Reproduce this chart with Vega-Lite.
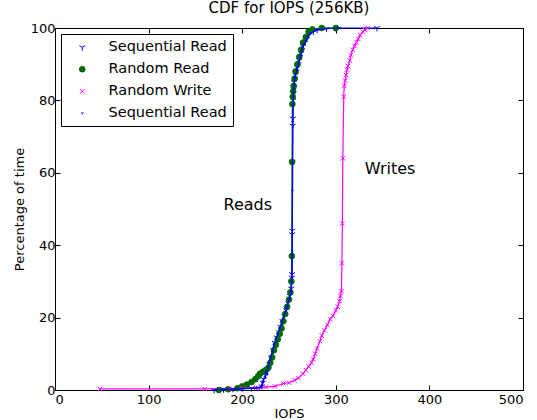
{
  "$schema": "https://vega.github.io/schema/vega-lite/v6.json",
  "width": 468,
  "height": 362,
  "autosize": "none",
  "padding": {"left": 55, "top": 28, "right": 14, "bottom": 30},
  "config": {
    "font": "DejaVu Sans",
    "view": {"stroke": "black", "strokeWidth": 1},
    "axis": {"grid": false, "domain": false, "tickColor": "black", "tickSize": -5, "labelColor": "black", "titleColor": "black", "labelFontSize": 13, "titleFontSize": 13, "titleFontWeight": "normal", "labelFont": "DejaVu Sans", "titleFont": "DejaVu Sans"},
    "legend": {"orient": "top-left", "offset": 6, "labelFontSize": 14.5, "labelFont": "DejaVu Sans", "labelColor": "black", "strokeColor": "black", "fillColor": "white", "padding": 6, "rowPadding": 7, "symbolSize": 64, "symbolStrokeWidth": 1, "symbolOffset": 8, "labelOffset": 19, "cornerRadius": 0}
  },
  "title": {"text": "CDF for IOPS (256KB)", "fontSize": 15, "fontWeight": "normal", "font": "DejaVu Sans", "offset": 6, "color": "black"},
  "datasets": {
    "cdf": [
      {"series": "Sequential Read", "iops": 170, "pct": 0},
      {"series": "Sequential Read", "iops": 180, "pct": 0.2},
      {"series": "Sequential Read", "iops": 190, "pct": 0.3},
      {"series": "Sequential Read", "iops": 200, "pct": 0.4},
      {"series": "Sequential Read", "iops": 210, "pct": 0.5},
      {"series": "Sequential Read", "iops": 218, "pct": 0.6},
      {"series": "Sequential Read", "iops": 221, "pct": 1},
      {"series": "Sequential Read", "iops": 222, "pct": 2},
      {"series": "Sequential Read", "iops": 223, "pct": 3},
      {"series": "Sequential Read", "iops": 225, "pct": 4},
      {"series": "Sequential Read", "iops": 227, "pct": 5},
      {"series": "Sequential Read", "iops": 229, "pct": 7},
      {"series": "Sequential Read", "iops": 231, "pct": 9},
      {"series": "Sequential Read", "iops": 233, "pct": 11},
      {"series": "Sequential Read", "iops": 235, "pct": 13},
      {"series": "Sequential Read", "iops": 237, "pct": 14.5},
      {"series": "Sequential Read", "iops": 239, "pct": 16},
      {"series": "Sequential Read", "iops": 241, "pct": 17.5},
      {"series": "Sequential Read", "iops": 243, "pct": 19},
      {"series": "Sequential Read", "iops": 245, "pct": 20.5},
      {"series": "Sequential Read", "iops": 247, "pct": 22},
      {"series": "Sequential Read", "iops": 249, "pct": 24},
      {"series": "Sequential Read", "iops": 251, "pct": 26},
      {"series": "Sequential Read", "iops": 252.5, "pct": 28},
      {"series": "Sequential Read", "iops": 253, "pct": 31},
      {"series": "Sequential Read", "iops": 253.3, "pct": 32},
      {"series": "Sequential Read", "iops": 253.5, "pct": 43},
      {"series": "Sequential Read", "iops": 253.6, "pct": 44},
      {"series": "Sequential Read", "iops": 253.8, "pct": 63},
      {"series": "Sequential Read", "iops": 254, "pct": 73},
      {"series": "Sequential Read", "iops": 254.2, "pct": 75},
      {"series": "Sequential Read", "iops": 254.5, "pct": 80},
      {"series": "Sequential Read", "iops": 255, "pct": 83},
      {"series": "Sequential Read", "iops": 255.5, "pct": 85},
      {"series": "Sequential Read", "iops": 256, "pct": 86},
      {"series": "Sequential Read", "iops": 257, "pct": 87},
      {"series": "Sequential Read", "iops": 258, "pct": 88},
      {"series": "Sequential Read", "iops": 259, "pct": 89},
      {"series": "Sequential Read", "iops": 260, "pct": 90},
      {"series": "Sequential Read", "iops": 261, "pct": 91},
      {"series": "Sequential Read", "iops": 262, "pct": 92},
      {"series": "Sequential Read", "iops": 263, "pct": 93},
      {"series": "Sequential Read", "iops": 264, "pct": 94},
      {"series": "Sequential Read", "iops": 265, "pct": 95},
      {"series": "Sequential Read", "iops": 267, "pct": 96},
      {"series": "Sequential Read", "iops": 269, "pct": 97},
      {"series": "Sequential Read", "iops": 271, "pct": 98},
      {"series": "Sequential Read", "iops": 276, "pct": 99},
      {"series": "Sequential Read", "iops": 280, "pct": 99.5},
      {"series": "Sequential Read", "iops": 290, "pct": 99.8},
      {"series": "Sequential Read", "iops": 300, "pct": 100},
      {"series": "Sequential Read", "iops": 344, "pct": 100},

      {"series": "Random Read", "iops": 175, "pct": 0},
      {"series": "Random Read", "iops": 185, "pct": 0.2},
      {"series": "Random Read", "iops": 195, "pct": 0.5},
      {"series": "Random Read", "iops": 200, "pct": 1},
      {"series": "Random Read", "iops": 205, "pct": 1.5},
      {"series": "Random Read", "iops": 210, "pct": 2.2},
      {"series": "Random Read", "iops": 214, "pct": 3},
      {"series": "Random Read", "iops": 217, "pct": 3.8},
      {"series": "Random Read", "iops": 219, "pct": 4.5},
      {"series": "Random Read", "iops": 222, "pct": 5},
      {"series": "Random Read", "iops": 225, "pct": 5.5},
      {"series": "Random Read", "iops": 228, "pct": 6.2},
      {"series": "Random Read", "iops": 230, "pct": 7.5},
      {"series": "Random Read", "iops": 232, "pct": 9},
      {"series": "Random Read", "iops": 234, "pct": 11},
      {"series": "Random Read", "iops": 236, "pct": 12.5},
      {"series": "Random Read", "iops": 238, "pct": 14},
      {"series": "Random Read", "iops": 240, "pct": 15.5},
      {"series": "Random Read", "iops": 242, "pct": 17},
      {"series": "Random Read", "iops": 244, "pct": 19},
      {"series": "Random Read", "iops": 246, "pct": 21},
      {"series": "Random Read", "iops": 248, "pct": 23},
      {"series": "Random Read", "iops": 250, "pct": 25},
      {"series": "Random Read", "iops": 251.5, "pct": 27},
      {"series": "Random Read", "iops": 252.5, "pct": 30},
      {"series": "Random Read", "iops": 253, "pct": 37},
      {"series": "Random Read", "iops": 253.3, "pct": 63},
      {"series": "Random Read", "iops": 253.6, "pct": 79},
      {"series": "Random Read", "iops": 254, "pct": 81},
      {"series": "Random Read", "iops": 254.5, "pct": 82.5},
      {"series": "Random Read", "iops": 255, "pct": 84},
      {"series": "Random Read", "iops": 256, "pct": 86},
      {"series": "Random Read", "iops": 257, "pct": 88},
      {"series": "Random Read", "iops": 259, "pct": 90},
      {"series": "Random Read", "iops": 261, "pct": 92},
      {"series": "Random Read", "iops": 263, "pct": 94},
      {"series": "Random Read", "iops": 265, "pct": 96},
      {"series": "Random Read", "iops": 268, "pct": 97.5},
      {"series": "Random Read", "iops": 271, "pct": 99},
      {"series": "Random Read", "iops": 275, "pct": 99.6},
      {"series": "Random Read", "iops": 285, "pct": 100},
      {"series": "Random Read", "iops": 300, "pct": 100},

      {"series": "Random Write", "iops": 48, "pct": 0.3},
      {"series": "Random Write", "iops": 160, "pct": 0.3},
      {"series": "Random Write", "iops": 187, "pct": 0.4},
      {"series": "Random Write", "iops": 200, "pct": 0.5},
      {"series": "Random Write", "iops": 215, "pct": 0.6},
      {"series": "Random Write", "iops": 225, "pct": 0.8},
      {"series": "Random Write", "iops": 235, "pct": 1},
      {"series": "Random Write", "iops": 244, "pct": 1.8},
      {"series": "Random Write", "iops": 250, "pct": 2},
      {"series": "Random Write", "iops": 256, "pct": 2.7},
      {"series": "Random Write", "iops": 260, "pct": 3.3},
      {"series": "Random Write", "iops": 265, "pct": 4.5},
      {"series": "Random Write", "iops": 268, "pct": 5.5},
      {"series": "Random Write", "iops": 271, "pct": 6.5},
      {"series": "Random Write", "iops": 274, "pct": 7.5},
      {"series": "Random Write", "iops": 276, "pct": 8.5},
      {"series": "Random Write", "iops": 278, "pct": 10},
      {"series": "Random Write", "iops": 280, "pct": 11.5},
      {"series": "Random Write", "iops": 283, "pct": 13.5},
      {"series": "Random Write", "iops": 285, "pct": 15},
      {"series": "Random Write", "iops": 288, "pct": 16.5},
      {"series": "Random Write", "iops": 291, "pct": 18},
      {"series": "Random Write", "iops": 294, "pct": 19.5},
      {"series": "Random Write", "iops": 297, "pct": 20.5},
      {"series": "Random Write", "iops": 300, "pct": 22},
      {"series": "Random Write", "iops": 302, "pct": 23},
      {"series": "Random Write", "iops": 304, "pct": 24.5},
      {"series": "Random Write", "iops": 305, "pct": 26},
      {"series": "Random Write", "iops": 306, "pct": 27.3},
      {"series": "Random Write", "iops": 306.5, "pct": 35},
      {"series": "Random Write", "iops": 307, "pct": 46},
      {"series": "Random Write", "iops": 307.5, "pct": 64},
      {"series": "Random Write", "iops": 308.5, "pct": 81},
      {"series": "Random Write", "iops": 309, "pct": 84},
      {"series": "Random Write", "iops": 310, "pct": 85.5},
      {"series": "Random Write", "iops": 311, "pct": 87},
      {"series": "Random Write", "iops": 312, "pct": 88.5},
      {"series": "Random Write", "iops": 313, "pct": 89.5},
      {"series": "Random Write", "iops": 315, "pct": 91},
      {"series": "Random Write", "iops": 316, "pct": 92.5},
      {"series": "Random Write", "iops": 318, "pct": 94},
      {"series": "Random Write", "iops": 320, "pct": 95},
      {"series": "Random Write", "iops": 322, "pct": 96},
      {"series": "Random Write", "iops": 324, "pct": 97},
      {"series": "Random Write", "iops": 326, "pct": 98},
      {"series": "Random Write", "iops": 329, "pct": 99},
      {"series": "Random Write", "iops": 331, "pct": 99.5},
      {"series": "Random Write", "iops": 334, "pct": 100},

      {"series": "Sequential Read (2)", "iops": 172, "pct": 0},
      {"series": "Sequential Read (2)", "iops": 195, "pct": 0.3},
      {"series": "Sequential Read (2)", "iops": 215, "pct": 0.5},
      {"series": "Sequential Read (2)", "iops": 220, "pct": 0.8},
      {"series": "Sequential Read (2)", "iops": 222, "pct": 2.5},
      {"series": "Sequential Read (2)", "iops": 224, "pct": 3.5},
      {"series": "Sequential Read (2)", "iops": 226, "pct": 5},
      {"series": "Sequential Read (2)", "iops": 228, "pct": 6.5},
      {"series": "Sequential Read (2)", "iops": 230, "pct": 8.5},
      {"series": "Sequential Read (2)", "iops": 232, "pct": 10.5},
      {"series": "Sequential Read (2)", "iops": 234, "pct": 12.5},
      {"series": "Sequential Read (2)", "iops": 236, "pct": 14},
      {"series": "Sequential Read (2)", "iops": 238, "pct": 15.5},
      {"series": "Sequential Read (2)", "iops": 240, "pct": 17},
      {"series": "Sequential Read (2)", "iops": 242, "pct": 18.5},
      {"series": "Sequential Read (2)", "iops": 244, "pct": 20},
      {"series": "Sequential Read (2)", "iops": 246, "pct": 21.5},
      {"series": "Sequential Read (2)", "iops": 248, "pct": 23},
      {"series": "Sequential Read (2)", "iops": 250, "pct": 25},
      {"series": "Sequential Read (2)", "iops": 252, "pct": 27},
      {"series": "Sequential Read (2)", "iops": 253, "pct": 30},
      {"series": "Sequential Read (2)", "iops": 253.4, "pct": 38},
      {"series": "Sequential Read (2)", "iops": 253.7, "pct": 55},
      {"series": "Sequential Read (2)", "iops": 254, "pct": 74},
      {"series": "Sequential Read (2)", "iops": 254.8, "pct": 82},
      {"series": "Sequential Read (2)", "iops": 255.5, "pct": 84.5},
      {"series": "Sequential Read (2)", "iops": 256.5, "pct": 86.5},
      {"series": "Sequential Read (2)", "iops": 258.5, "pct": 88.5},
      {"series": "Sequential Read (2)", "iops": 260.5, "pct": 90.5},
      {"series": "Sequential Read (2)", "iops": 262.5, "pct": 92.5},
      {"series": "Sequential Read (2)", "iops": 264.5, "pct": 94.5},
      {"series": "Sequential Read (2)", "iops": 266, "pct": 95.5},
      {"series": "Sequential Read (2)", "iops": 268, "pct": 96.5},
      {"series": "Sequential Read (2)", "iops": 270, "pct": 97.5},
      {"series": "Sequential Read (2)", "iops": 273, "pct": 98.5},
      {"series": "Sequential Read (2)", "iops": 278, "pct": 99.3},
      {"series": "Sequential Read (2)", "iops": 288, "pct": 99.8},
      {"series": "Sequential Read (2)", "iops": 305, "pct": 100}
    ],
    "notes": [
      {"label": "Reads", "iops": 206, "pct": 51},
      {"label": "Writes", "iops": 358, "pct": 61}
    ]
  },
  "resolve": {"axis": {"x": "independent", "y": "independent"}},
  "layer": [
    {
      "data": {"name": "cdf"},
      "encoding": {
        "x": {"field": "iops", "type": "quantitative", "scale": {"domain": [0, 500], "nice": false, "zero": false}, "axis": {"title": "IOPS", "values": [0, 100, 200, 300, 400, 500], "labelPadding": 8, "titlePadding": 1}},
        "y": {"field": "pct", "type": "quantitative", "scale": {"domain": [0, 100], "nice": false}, "axis": {"title": "Percentage of time", "values": [0, 20, 40, 60, 80, 100], "labelPadding": 5, "titlePadding": 4}}
      },
      "layer": [
        {
          "transform": [{"filter": "datum.series != 'Sequential Read (2)'"}],
          "mark": {"type": "line", "strokeWidth": 1.2},
          "encoding": {
            "detail": {"field": "series", "type": "nominal"},
            "stroke": {"condition": [{"test": "datum.series == 'Random Read'", "value": "#006a00"}, {"test": "datum.series == 'Random Write'", "value": "#ff00ff"}], "value": "#0000ff"},
            "order": {"field": "pct", "type": "quantitative"}
          }
        },
        {
          "transform": [{"filter": "datum.series != 'Sequential Read (2)'"}],
          "mark": {"type": "point", "filled": true, "strokeWidth": 1, "opacity": 1},
          "encoding": {
            "fill": {"field": "series", "type": "nominal", "title": null, "scale": {"domain": ["Sequential Read", "Random Read", "Random Write", "Sequential Read (2)"], "range": ["#0000ff", "#006a00", "#ff00ff", "#0000ff"]},
              "legend": {"title": null, "labelExpr": "replace(datum.label, ' (2)', '')"}},
            "stroke": {"field": "series", "type": "nominal", "title": null, "scale": {"domain": ["Sequential Read", "Random Read", "Random Write", "Sequential Read (2)"], "range": ["#0000ff", "#006a00", "#ff00ff", "#0000ff"]}},
            "shape": {"field": "series", "type": "nominal", "title": null, "scale": {"domain": ["Sequential Read", "Random Read", "Random Write", "Sequential Read (2)"], "range": ["M0,0L0,1M0,0L-0.866,-0.5M0,0L0.866,-0.5", "circle", "M-1,-1L1,1M-1,1L1,-1", "M0,0L0,1M0,0L-0.866,-0.5M0,0L0.866,-0.5"]},
              "legend": {"title": null, "labelExpr": "replace(datum.label, ' (2)', '')"}},
            "size": {"field": "series", "type": "nominal", "title": null, "scale": {"domain": ["Sequential Read", "Random Read", "Random Write", "Sequential Read (2)"], "range": [45, 7, 50, 45]}}
          }
        },
        {
          "transform": [{"filter": "datum.series == 'Sequential Read (2)'"}],
          "mark": {"type": "line", "strokeWidth": 1.2, "stroke": "#0000ff"},
          "encoding": {
            "order": {"field": "pct", "type": "quantitative"}
          }
        },
        {
          "transform": [{"filter": "datum.series == 'Sequential Read (2)'"}],
          "mark": {"type": "point", "filled": true, "strokeWidth": 1, "opacity": 1},
          "encoding": {
            "fill": {"field": "series", "type": "nominal", "title": null},
            "stroke": {"field": "series", "type": "nominal", "title": null},
            "shape": {"field": "series", "type": "nominal", "title": null},
            "size": {"field": "series", "type": "nominal", "title": null}
          }
        }
      ]
    },
    {
      "data": {"name": "notes"},
      "mark": {"type": "text", "fontSize": 16, "font": "DejaVu Sans", "color": "black"},
      "encoding": {
        "x": {"field": "iops", "type": "quantitative", "axis": {"orient": "top", "labels": false, "title": null, "values": [0, 100, 200, 300, 400, 500]}},
        "y": {"field": "pct", "type": "quantitative", "axis": {"orient": "right", "labels": false, "title": null, "values": [0, 20, 40, 60, 80, 100]}},
        "text": {"field": "label"}
      }
    }
  ]
}
